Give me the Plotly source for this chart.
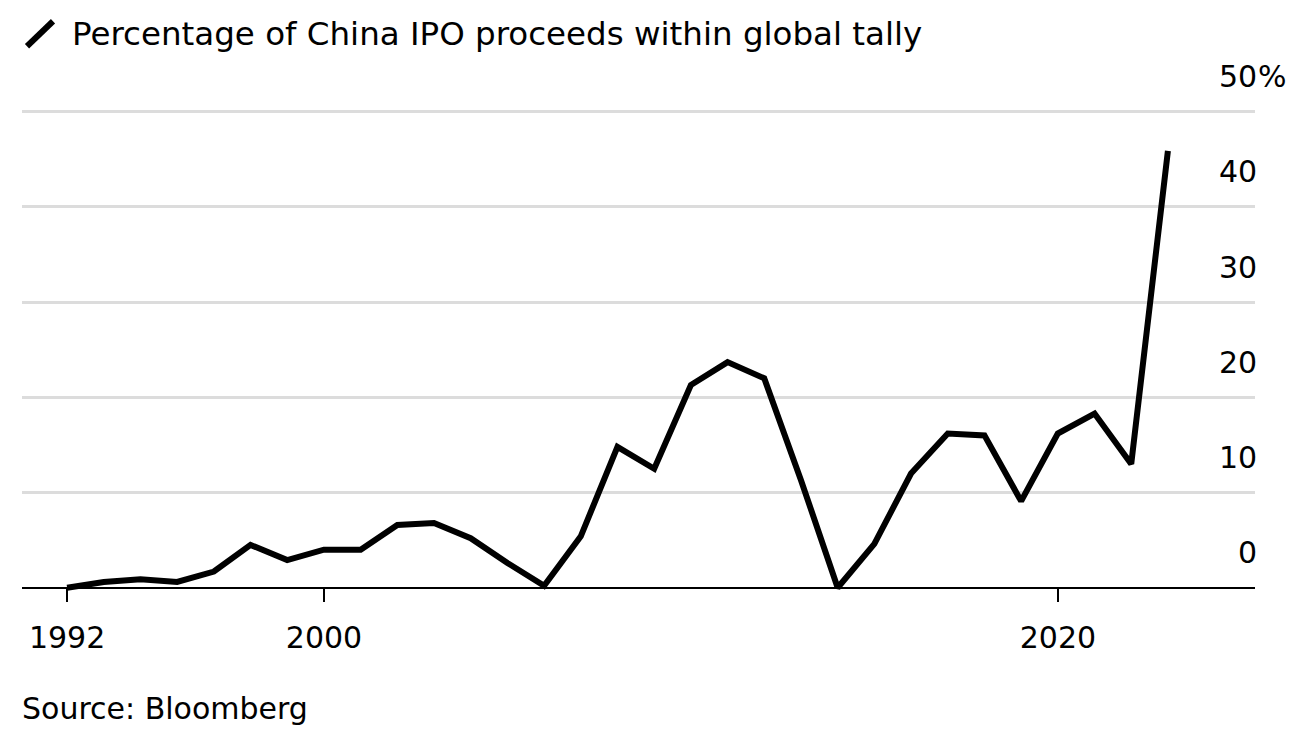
import plotly.graph_objects as go

# ---- data ----
years = list(range(1992, 2023))
share_pct = [0.0, 0.6, 0.9, 0.6, 1.7, 4.5, 2.9, 4.0, 4.0, 6.6, 6.8, 5.2, 2.6, 0.2,
             5.4, 14.8, 12.5, 21.3, 23.7, 22.0, 11.3, 0.0, 4.6, 12.0, 16.2, 16.0,
             9.1, 16.2, 18.3, 13.0, 45.9]
y_ticks = [0, 10, 20, 30, 40, 50]
x_tick_vals = ["1992-12-31", "2000-01-01", "2020-01-01"]
x_tick_text = ["1992", "2000", "2020"]
title_text = "Percentage of China IPO proceeds within global tally"
source_text = "Source: Bloomberg"

FONT = "DejaVu Sans"
OFF = 8  # page body margin
W, H = 1313 - OFF, 746 - OFF
# page-pixel layout targets
PL, PR = 22, 1255          # plot left/right
Y_TOP_VAL, Y_BOT_VAL = 50.5, -1.5
PX_PER_UNIT = 9.52
P_ZERO = 587.5
P_TOP = P_ZERO - Y_TOP_VAL * PX_PER_UNIT
P_BOT = P_ZERO - Y_BOT_VAL * PX_PER_UNIT

L = PL - OFF
R = W - (PR - OFF)
T = P_TOP - OFF
B = H - (P_BOT - OFF)

x_dates = [f"{y}-12-31" for y in years]

fig = go.Figure()
fig.add_trace(go.Scatter(
    x=x_dates, y=share_pct, mode="lines",
    line=dict(color="#000000", width=6, shape="linear"),
    hoverinfo="skip", showlegend=False,
))

fig.update_layout(
    width=W, height=H,
    margin=dict(l=L, r=R, t=T, b=B, pad=0),
    paper_bgcolor="white", plot_bgcolor="white",
    font=dict(family=FONT, color="#000000", size=30),
    xaxis=dict(
        type="date",
        range=["1991-10-09", "2025-05-16"],
        tickvals=x_tick_vals, ticktext=x_tick_text,
        ticks="inside", ticklen=14, tickwidth=2, tickcolor="#000000",
        showgrid=False, showline=False, zeroline=False,
        tickfont=dict(family=FONT, size=30, color="#000000"),
        ticklabelstandoff=15,
    ),
    yaxis=dict(
        range=[Y_BOT_VAL, Y_TOP_VAL],
        tickvals=y_ticks, showticklabels=False,
        showgrid=True, gridcolor="#dcdcdc", gridwidth=2.5,
        zeroline=True, zerolinecolor="#000000", zerolinewidth=2,
        showline=False, ticks="",
    ),
)

for v in y_ticks:
    fig.add_annotation(
        x=1, xref="paper", y=v, yref="y", text=str(v), showarrow=False,
        xanchor="right", yanchor="middle", xshift=4, yshift=35,
        font=dict(family=FONT, size=30, color="#000000"),
    )
fig.add_annotation(
    x=1, xref="paper", y=y_ticks[-1], yref="y", text="%", showarrow=False,
    xanchor="left", yanchor="middle", xshift=1, yshift=35,
    font=dict(family=FONT, size=30, color="#000000"),
)

plot_h = H - T - B
plot_w = W - L - R
def py(page_y):
    return (H - B - (page_y - OFF)) / plot_h
def px(page_x):
    return (page_x - OFF - L) / plot_w

fig.add_shape(type="line", xref="paper", yref="paper",
              x0=px(27), y0=py(46), x1=px(53), y1=py(21),
              line=dict(color="#000000", width=6))
fig.add_annotation(
    x=px(70), xref="paper", y=py(34), yref="paper", text=title_text,
    showarrow=False, xanchor="left", yanchor="middle",
    font=dict(family=FONT, size=32.5, color="#000000"),
)
fig.add_annotation(
    x=px(20), xref="paper", y=py(708), yref="paper", text=source_text,
    showarrow=False, xanchor="left", yanchor="middle",
    font=dict(family=FONT, size=30, color="#000000"),
)

fig.write_html("out.html")
